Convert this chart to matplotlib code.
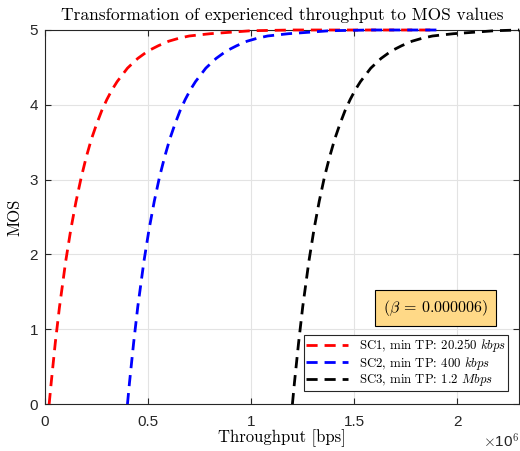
import matplotlib
matplotlib.use('Agg')
import matplotlib.pyplot as plt
import matplotlib.ticker as ticker

plt.rcParams['mathtext.fontset'] = 'cm'
plt.rcParams['axes.unicode_minus'] = False

# throughput [bps] and resulting MOS for each scenario
sc1_tp = [20250, 30000, 50000, 70000, 100000, 125000, 150000, 175000, 200000, 225000,
          250000, 275000, 300000, 325000, 350000, 375000, 400000, 450000, 500000, 550000,
          600000, 650000, 700000, 800000, 900000, 1000000, 1200000, 1500000, 1900000]
sc1_mos = [0, 0.28, 0.82, 1.29, 1.90, 2.33, 2.70, 3.02, 3.30, 3.54,
           3.74, 3.92, 4.07, 4.20, 4.31, 4.40, 4.49, 4.62, 4.72, 4.79,
           4.85, 4.89, 4.92, 4.95, 4.97, 4.99, 5.0, 5.0, 5.0]

sc2_tp = [400000, 410000, 430000, 450000, 480000, 505000, 530000, 555000, 580000, 605000,
          630000, 655000, 680000, 705000, 730000, 755000, 780000, 830000, 880000, 930000,
          980000, 1030000, 1080000, 1180000, 1280000, 1380000, 1580000, 1900000]
sc2_mos = [0, 0.29, 0.82, 1.30, 1.91, 2.34, 2.71, 3.03, 3.30, 3.54,
           3.74, 3.92, 4.07, 4.20, 4.31, 4.40, 4.49, 4.62, 4.72, 4.79,
           4.85, 4.89, 4.92, 4.95, 4.97, 4.99, 5.0, 5.0]

sc3_tp = [1200000, 1210000, 1230000, 1250000, 1280000, 1305000, 1330000, 1355000, 1380000, 1405000,
          1430000, 1455000, 1480000, 1505000, 1530000, 1555000, 1580000, 1630000, 1680000, 1730000,
          1780000, 1830000, 1880000, 1980000, 2080000, 2180000, 2300000]
sc3_mos = [0, 0.29, 0.82, 1.30, 1.91, 2.34, 2.71, 3.03, 3.30, 3.54,
           3.74, 3.92, 4.07, 4.20, 4.31, 4.40, 4.49, 4.62, 4.72, 4.79,
           4.85, 4.89, 4.92, 4.95, 4.97, 4.99, 5.0]

labels = ['SC1, min TP: 20.250 $kbps$',
          'SC2, min TP: 400 $kbps$',
          'SC3, min TP: 1.2 $Mbps$']
colors = ['red', 'blue', 'black']
beta = '0.000006'

serif = 'cmr10'
sans = 'Liberation Sans'

fig = plt.figure(figsize=(5.2, 4.51), dpi=100)
ax = fig.add_axes([0.0865, 0.104, 0.912, 0.8295])

for tp, mos, c, lab in zip([sc1_tp, sc2_tp, sc3_tp], [sc1_mos, sc2_mos, sc3_mos], colors, labels):
    ax.plot(tp, mos, color=c, linewidth=2.0, dashes=(4, 2.5), label=lab,
            clip_on=False, zorder=3)

ax.set_xlim(0, 2.3e6)
ax.set_ylim(0, 5)
ax.set_xticks([0, 0.5e6, 1e6, 1.5e6, 2e6])
ax.set_yticks([0, 1, 2, 3, 4, 5])
ax.xaxis.set_major_formatter(ticker.FuncFormatter(lambda x, pos: '%g' % (x / 1e6)))
ax.grid(True, color='#e3e3e3', linewidth=0.8)
ax.set_axisbelow(True)

ax.tick_params(axis='both', direction='in', length=4, width=0.8, colors='#262626',
               top=True, right=True, labelsize=11, pad=5)
ax.tick_params(axis='x', pad=8)
for lab in ax.get_xticklabels() + ax.get_yticklabels():
    lab.set_fontfamily(sans)
for s in ax.spines.values():
    s.set_color('#262626')
    s.set_linewidth(0.8)

ax.text(1.0, -0.075, r'$\times$10$^{6}$', transform=ax.transAxes, ha='right', va='top',
        fontsize=11, family=sans, color='#262626')

ax.set_title('Transformation of experienced throughput to MOS values', fontsize=12.5,
             family=serif, pad=7)
ax.set_xlabel('Throughput [bps]', fontsize=12, family=serif, labelpad=0)
ax.set_ylabel('MOS', fontsize=12, family=serif, labelpad=5)

ax.text(0.823, 0.258, r'($\beta$ = %s)' % beta,
        transform=ax.transAxes, ha='center', va='center', fontsize=11.5, family=serif,
        bbox=dict(boxstyle='square,pad=0.5', facecolor='#ffd987', edgecolor='black',
                  linewidth=0.8))

leg = ax.legend(loc='lower right', bbox_to_anchor=(0.977, 0.035),
                prop={'family': serif, 'size': 9.2}, fancybox=False, framealpha=1,
                edgecolor='#262626', handlelength=3.3, borderpad=0.2, labelspacing=0.05,
                handletextpad=0.8, borderaxespad=0)
leg.get_frame().set_linewidth(0.8)

plt.savefig('out.png', dpi=100)
